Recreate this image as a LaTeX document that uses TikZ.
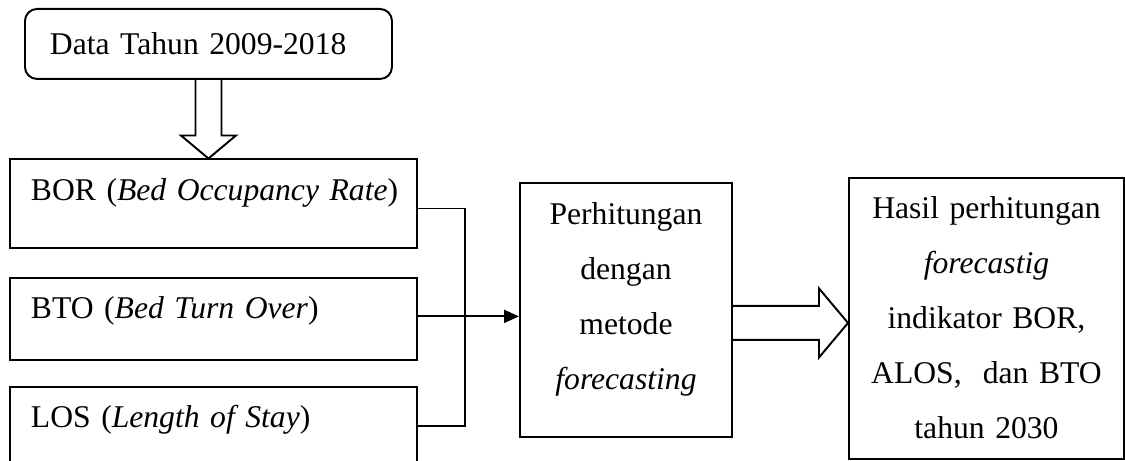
\documentclass[tikz,border=0pt]{standalone}
\usepackage{fontspec}
\setmainfont{Liberation Serif}
\usetikzlibrary{arrows.meta,positioning,calc}

\begin{document}
\begin{tikzpicture}[
    every node/.style={font=\fontsize{18}{31.3}\selectfont},
    garis/.style={line width=1.1pt},
    kotak/.style={draw,line width=1.1pt,minimum width=8.14cm,text width=7.30cm,inner xsep=0.42cm,inner ysep=0pt,align=left,text height=0.82cm},
    tengah/.style={draw,line width=1.1pt,inner sep=0pt,align=center},
    arrow/.style={-{Triangle[length=0.3cm,width=0.26cm]},line width=1.1pt},
    panah/.style={draw,line width=1.1pt,line join=miter}
  ]
  \clip (0,0) rectangle (22.5,-9.22);
  \node[draw,line width=1.1pt,rounded corners=0.24cm,anchor=north west,minimum width=7.34cm,minimum height=1.4cm,text width=6.34cm,inner xsep=0.5cm,inner ysep=0pt,align=left] (data) at (0.48,-0.16) {Data Tahun 2009-2018};
  \node[kotak,text depth=0.96cm,anchor=north west] (bor) at (0.18,-3.17) {\mbox{BOR (\textit{Bed Occupancy Rate})}};
  \node[kotak,text depth=0.82cm,below=0.55cm of bor] (bto) {BTO (\textit{Bed Turn Over})};
  \node[kotak,text depth=1.8cm,below=0.5cm of bto] (los) {LOS (\textit{Length of Stay})};
  \node[tengah,text width=4.24cm,text height=0.83cm,text depth=4.25cm,anchor=north west] (hitung) at (10.38,-3.64) {Perhitungan\\dengan\\metode\\\textit{forecasting}};
  \node[tengah,text width=5.5cm,text height=0.81cm,text depth=4.81cm,anchor=north west] (hasil) at (16.96,-3.54) {Hasil perhitungan\\\textit{forecastig}\\indikator BOR,\\ALOS,~ dan BTO\\tahun 2030};

  % panah blok ke bawah
  \coordinate (ujung1) at (data.south |- bor.north);
  \draw[panah] ($(data.south)+(-0.26,0)$) -- ($(ujung1)+(-0.26,0.46)$) -- ++(-0.29,0) -- (ujung1) -- ++(0.55,0.46) -- ++(-0.29,0) -- ($(data.south)+(0.26,0)$);

  % penghubung
  \coordinate (sambung) at (9.30,0);
  \coordinate (a1) at ([yshift=-1.0cm]bor.north east);
  \coordinate (a2) at ([yshift=0.05cm]bto.east);
  \coordinate (a3) at ([yshift=-0.8cm]los.north east);
  \draw[garis] (a1) -| (sambung |- a3) -- (a3);
  \draw[arrow] (a2) -- (a2 -| hitung.west);

  % panah blok ke kanan
  \coordinate (pangkal) at ($(hitung.east)+(0,-0.26)$);
  \coordinate (ujung2) at (pangkal -| hasil.west);
  \draw[panah] ($(pangkal)+(0,0.34)$) -- ($(ujung2)+(-0.58,0.34)$) -- ++(0,0.35) -- (ujung2) -- ++(-0.58,-0.69) -- ++(0,0.35) -- ($(pangkal)+(0,-0.34)$);
\end{tikzpicture}
\end{document}
